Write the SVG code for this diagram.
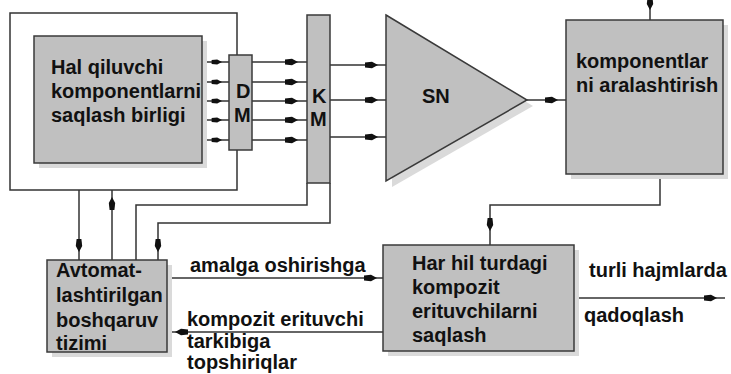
<svg xmlns="http://www.w3.org/2000/svg" xmlns:xlink="http://www.w3.org/1999/xlink" width="731" height="374" viewBox="0 0 731 374">
<style>
.box{fill:#c0c0c0;stroke:#3a3a3a;stroke-width:1.5}
.sh{fill:#dadada}
.ln{fill:none;stroke:#333;stroke-width:1.5}
.t{font-family:"Liberation Sans",Arial,sans-serif;font-weight:bold;font-size:20px;fill:#111}
.ah{fill:#111}
</style>
<defs>
<path id="ar" d="M-13,-2.4 L-6,-3.2 L0,0 L-6,3.2 L-13,2.4 Z"/>
</defs>
<rect width="731" height="374" fill="#fff"/>

<g id="connectors">
<path class="ln" d="M237,55 V13 H10 V190 H237 V150"/>
<path class="ln" d="M79,190 V260"/>
<path class="ln" d="M112,190 V260"/>
<path class="ln" d="M307,183 V205 H136 V260"/>
<path class="ln" d="M330,183 V223 H158 V260"/>
<path class="ln" d="M202,62 H229 M202,82 H229 M202,101 H229 M202,120 H229 M202,140 H229"/>
<path class="ln" d="M252,62 H307 M252,82 H307 M252,101 H307 M252,120 H307 M252,140 H307"/>
<path class="ln" d="M330,65 H386 M330,100 H386 M330,137 H386"/>
<path class="ln" d="M527,100 H566"/>
<path class="ln" d="M650,0 V20"/>
<path class="ln" d="M660,174 V205 H490 V245"/>
<path class="ln" d="M167,278 H383"/>
<path class="ln" d="M383,332 H167"/>
<path class="ln" d="M574,298 H725"/>
<g class="ah">
<use xlink:href="#ar" transform="translate(222,62) scale(0.8)"/>
<use xlink:href="#ar" transform="translate(222,82) scale(0.8)"/>
<use xlink:href="#ar" transform="translate(222,101) scale(0.8)"/>
<use xlink:href="#ar" transform="translate(222,120) scale(0.8)"/>
<use xlink:href="#ar" transform="translate(222,140) scale(0.8)"/>
<use xlink:href="#ar" transform="translate(298,62)"/>
<use xlink:href="#ar" transform="translate(298,82)"/>
<use xlink:href="#ar" transform="translate(298,101)"/>
<use xlink:href="#ar" transform="translate(298,120)"/>
<use xlink:href="#ar" transform="translate(298,140)"/>
<use xlink:href="#ar" transform="translate(378,65)"/>
<use xlink:href="#ar" transform="translate(378,100)"/>
<use xlink:href="#ar" transform="translate(378,137)"/>
<use xlink:href="#ar" transform="translate(558,100)"/>
<use xlink:href="#ar" transform="translate(650,10) rotate(90)"/>
<use xlink:href="#ar" transform="translate(490,231) rotate(90)"/>
<use xlink:href="#ar" transform="translate(79,252) rotate(90)"/>
<use xlink:href="#ar" transform="translate(112,197) rotate(-90)"/>
<use xlink:href="#ar" transform="translate(158,252) rotate(90)"/>
<use xlink:href="#ar" transform="translate(377,278)"/>
<use xlink:href="#ar" transform="translate(175,332) rotate(180)"/>
<use xlink:href="#ar" transform="translate(717,298)"/>
</g>
</g>

<g id="hal">
<rect class="sh" x="39" y="41" width="168" height="127"/>
<rect class="box" x="34" y="36" width="168" height="127"/>
<text class="t" x="51" y="74">Hal qiluvchi</text>
<text class="t" x="51" y="98">komponentlarni</text>
<text class="t" x="51" y="122">saqlash birligi</text>
</g>

<g id="dm">
<rect class="box" x="229" y="55" width="23" height="95"/>
<text class="t" x="236" y="98">D</text>
<text class="t" x="234" y="122">M</text>
</g>

<g id="km">
<rect class="box" x="307" y="15" width="23" height="168"/>
<text class="t" x="312" y="103">K</text>
<text class="t" x="310" y="126">M</text>
</g>

<g id="sn">
<polygon class="sh" points="392,21 533,106 392,187"/>
<polygon class="box" points="386,15 527,100 386,181"/>
<text class="t" x="422" y="103">SN</text>
</g>

<g id="mix">
<rect class="sh" x="571" y="25" width="157" height="154"/>
<rect class="box" x="566" y="20" width="157" height="154"/>
<text class="t" x="576" y="68">komponentlar</text>
<text class="t" x="576" y="92">ni aralashtirish</text>
</g>

<g id="storage">
<rect class="sh" x="388" y="250" width="191" height="106"/>
<rect class="box" x="383" y="245" width="191" height="106"/>
<text class="t" x="412" y="270">Har hil turdagi</text>
<text class="t" x="412" y="294">kompozit</text>
<text class="t" x="412" y="318">erituvchilarni</text>
<text class="t" x="412" y="342">saqlash</text>
</g>

<g id="control">
<rect class="sh" x="52" y="265" width="120" height="92"/>
<rect class="box" x="47" y="260" width="120" height="92"/>
<text class="t" x="56" y="277">Avtomat-</text>
<text class="t" x="56" y="302">lashtirilgan</text>
<text class="t" x="56" y="327">boshqaruv</text>
<text class="t" x="56" y="350">tizimi</text>
</g>

<g id="labels">
<text class="t" x="190" y="272">amalga oshirishga</text>
<text class="t" x="187" y="326">kompozit erituvchi</text>
<text class="t" x="187" y="348">tarkibiga</text>
<text class="t" x="187" y="369">topshiriqlar</text>
<text class="t" x="589" y="277">turli hajmlarda</text>
<text class="t" x="584" y="322">qadoqlash</text>
</g>
</svg>
